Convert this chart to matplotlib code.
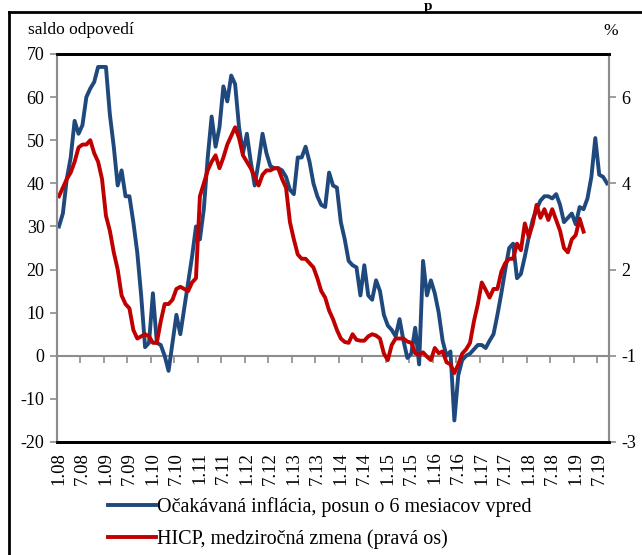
import matplotlib
matplotlib.use('Agg')
import matplotlib.pyplot as plt
import numpy as np

plt.rcParams['font.family'] = ['Liberation Serif', 'DejaVu Serif']
plt.rcParams['font.size'] = 13
plt.rcParams['axes.unicode_minus'] = False

# ocakavana inflacia (saldo odpovedi), mesacne od 1.2008, posun o 6 mesiacov
blue_vals = [30, 33, 41, 46, 54.5, 51.5, 53.5, 60, 62, 63.5,
             67, 67, 67, 56, 48.5, 39.5, 43, 37, 37, 31,
             24, 14, 2, 3, 14.5, 3, 2.5, 0, -3.5, 3,
             9.5, 5, 11, 17, 23, 30, 27, 34, 46, 55.5,
             48.5, 53, 62.5, 59, 65, 63, 53, 47, 51.5, 45,
             39.5, 45, 51.5, 47, 44, 43.5, 43.5, 43, 41.5, 38.5,
             37.5, 46, 46, 48.5, 45, 40, 37, 35, 34.5, 42.5,
             39.5, 39, 31, 27, 22, 21, 20.5, 14, 21, 14,
             13, 17.5, 15, 9.5, 7, 6, 4.5, 8.5, 3.5, -0.5,
             0.5, 6.5, -2, 22, 14, 17.5, 14.5, 10, 3.5, 0,
             1, -15, -4.5, -1, 0, 0.5, 1.5, 2.5, 2.5, 1.8,
             3.5, 5, 9.5, 14.5, 20, 25, 26, 18, 19, 23,
             27.5, 31.5, 34, 36, 37, 37, 36.5, 37.5, 35, 31,
             32, 33, 30.5, 34.5, 34, 36.5, 41.5, 50.5, 42, 41.5,
             40]

# HICP medzirocna zmena v %
red_vals = [3.7, 3.9, 4.1, 4.25, 4.5, 4.83, 4.9, 4.9, 5.0, 4.7,
            4.5, 4.1, 3.25, 2.9, 2.4, 2.0, 1.4, 1.2, 1.1, 0.6,
            0.4, 0.45, 0.5, 0.45, 0.3, 0.3, 0.8, 1.2, 1.2, 1.3,
            1.55, 1.6, 1.55, 1.5, 1.7, 1.8, 3.7, 4.0, 4.3, 4.5,
            4.65, 4.35, 4.6, 4.9, 5.1, 5.3, 5.05, 4.65, 4.5, 4.35,
            4.15, 3.95, 4.2, 4.3, 4.3, 4.35, 4.35, 4.1, 3.9, 3.1,
            2.7, 2.35, 2.25, 2.25, 2.15, 2.05, 1.8, 1.5, 1.35, 1.05,
            0.85, 0.6, 0.4, 0.32, 0.3, 0.5, 0.37, 0.35, 0.35, 0.45,
            0.5, 0.47, 0.4, 0.05, -0.1, 0.25, 0.4, 0.4, 0.4, 0.33,
            0.3, 0.06, 0.02, 0.08, -0.02, -0.1, 0.18, 0.06, 0.1, -0.15,
            -0.2, -0.4, -0.2, 0.05, 0.15, 0.3, 0.8, 1.2, 1.7, 1.53,
            1.35, 1.55, 1.55, 1.95, 2.15, 2.25, 2.25, 2.6, 2.45, 3.07,
            2.76, 3.05, 3.5, 3.2, 3.4, 3.15, 3.4, 3.15, 2.9, 2.5,
            2.4, 2.7, 2.8, 3.18, 2.88]

years = [f'{y:02d}' for y in range(8, 20)]
tick_labels = [f'{m}.{y}' for y in years for m in (1, 7)]

left_ticks = [-20, -10, 0, 10, 20, 30, 40, 50, 60, 70]
right_ticks = [-2, 0, 2, 4, 6]
right_labels = ['-3', '-1', '2', '4', '6']

blue_label = 'Očakávaná inflácia, posun o 6 mesiacov vpred'
red_label = 'HICP, medziročná zmena (pravá os)'

BLUE = '#1F497D'
RED = '#C00000'
GREY = '#8C8C8C'

fig = plt.figure(figsize=(6.42, 5.55), dpi=100)
ax = fig.add_axes([57/642, 1-442/555, 552/642, 388/555])
ax2 = ax.twinx()

xb = np.arange(len(blue_vals))
xr = np.arange(len(red_vals))
lb, = ax.plot(xb, blue_vals, color=BLUE, lw=2.8, solid_joinstyle='round')
lr, = ax2.plot(xr, red_vals, color=RED, lw=2.8, solid_joinstyle='round')

n = len(blue_vals)
ax.set_xlim(-0.5, n - 0.5)
ax.set_ylim(-20, 70)
ax2.set_ylim(-2, 7)

ax.set_yticks(left_ticks)
ax2.set_yticks(right_ticks)
ax2.set_yticklabels(right_labels)

ax.set_xticks(np.arange(0, 6*len(tick_labels), 6))
ax.set_xticklabels(tick_labels, rotation=90, fontsize=13.5)
ax.tick_params(axis='x', length=0, pad=7)
ax.tick_params(axis='y', colors=GREY, labelcolor='black', length=5, width=1.2, pad=4)
ax2.tick_params(axis='y', colors=GREY, labelcolor='black', length=5, width=1.2, pad=4)

for a in (ax, ax2):
    a.spines['left'].set_color(GREY)
    a.spines['right'].set_color(GREY)
    a.spines['left'].set_linewidth(1.5)
    a.spines['right'].set_linewidth(1.5)
    a.spines['top'].set_color('black')
    a.spines['bottom'].set_color('black')
    a.spines['top'].set_linewidth(2)
    a.spines['bottom'].set_linewidth(2)

# nulova os s kratkymi znackami medzi polrokmi
ax.axhline(0, color=GREY, lw=1.5, zorder=1)
sec = ax.secondary_xaxis(2/9)
sec.set_xticks(np.arange(5.5, n - 1, 6))
sec.tick_params(axis='x', direction='out', length=5, width=1.2, colors=GREY, labelbottom=False)
sec.spines['bottom'].set_visible(False)

fig.text(28/642, 1-30/555, 'saldo odpovedí', ha='left', va='center', fontsize=12.5)
fig.text(611/642, 1-31/555, '%', ha='center', va='center', fontsize=12.5)
fig.text(428/642, 1.0, 'p', ha='center', va='top', fontsize=11, weight='bold')

fig.legend([lb, lr], [blue_label, red_label], loc='upper left',
           bbox_to_anchor=(108/642, 1-497/555), frameon=False,
           handlelength=2.4, handletextpad=0.05, labelspacing=0.6,
           fontsize=14.5, borderaxespad=0, borderpad=0)

# ramcek okolo grafu
fig.add_artist(plt.Line2D([9/642, 9/642], [0, 1-12/555], color='black', lw=2))
fig.add_artist(plt.Line2D([9/642, 1], [1-12/555, 1-12/555], color='black', lw=2))

fig.savefig('out.png', dpi=100)
